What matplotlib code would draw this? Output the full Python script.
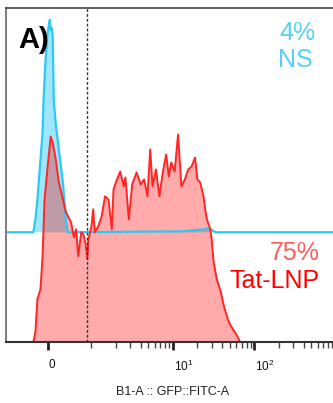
import numpy as np
import matplotlib
matplotlib.use('Agg')
import matplotlib.pyplot as plt
import matplotlib.transforms as mtrans

plt.rcParams['font.family'] = ['Liberation Sans', 'DejaVu Sans']
plt.rcParams['mathtext.fontset'] = 'custom'
plt.rcParams['mathtext.rm'] = 'Liberation Sans'
plt.rcParams['mathtext.default'] = 'regular'

# GFP::FITC-A values and histogram heights
red_x = [-0.95, -0.326, -0.279, -0.233, -0.163, -0.116, -0.070, 0.0, 0.070, 0.116,
         0.186, 0.256, 0.349, 0.419, 0.535, 0.60, 0.651, 0.698, 0.767, 0.814,
         0.860, 0.907, 0.930, 1.0, 1.050, 1.100, 1.213, 1.334, 1.467, 1.618,
         1.778, 1.866, 2.054, 2.259, 2.489, 2.609, 2.876, 3.162, 3.580, 4.017,
         4.43, 4.87, 5.26, 5.62, 6.18, 6.82, 7.50, 8.25, 8.91, 9.52,
         10.50, 11.55, 12.70, 14.01, 15.40, 16.94, 18.68, 19.95, 21.57, 23.71,
         24.9, 26.09, 28.76, 29.85, 31.6, 34.5, 38.7, 42.2, 47.4, 51.4,
         59.4, 66.7, 1090]
red_y = [0, 0, 10, 43, 53, 86, 143, 176, 206, 200,
         183, 160, 143, 130, 120, 105, 113, 86, 110, 108,
         100, 83, 103, 116, 133, 110, 116, 126, 146, 143,
         113, 153, 163, 171, 156, 165, 123, 158, 170, 158,
         163, 146, 193, 156, 173, 146, 170, 188, 166, 180,
         171, 208, 156, 163, 173, 176, 185, 163, 160, 146,
         133, 123, 113, 103, 80, 63, 50, 36, 22, 16,
         8, 0, 0]

ns_x = [-0.95, -0.326, -0.279, -0.233, -0.163, -0.116, -0.093, -0.047, 0.0, 0.047,
        0.070, 0.093, 0.116, 0.140, 0.186, 0.256, 0.349, 0.419, 0.465,
        13.3, 17.8, 23.7, 27.2, 30.3, 33.5, 1090]
ns_y = [0, 0, 13, 33, 73, 100, 133, 173, 200, 213,
        203, 205, 196, 133, 108, 83, 50, 10, 0,
        1, 2, 3, 4, 2, 0, 0]
ns_offset = 110

gate = 0.9
major_ticks = [0, 10, 100, 1000]
major_labels = ['0', '$10^1$', '$10^2$', '$10^3$']
minor_ticks = [1, 2, 3, 4, 5, 6, 7, 8, 9, 20, 30, 40, 50, 60, 70, 80, 90,
               200, 300, 400, 500, 600, 700, 800, 900]

cyan = '#2ec8f4'
red = '#ff2626'

fig = plt.figure(figsize=(3.33, 4.03), dpi=100)
ax = fig.add_axes([0.018, 0.1514, 1.0, 0.829])

ax.set_xscale('symlog', linthresh=1, linscale=0.484, base=10)

nsx = np.array(ns_x)
nsy = np.array(ns_y) + ns_offset
ax.fill_between(nsx, ns_offset, nsy, color=cyan, alpha=0.45, lw=0)
ax.plot(nsx, nsy, color=cyan, lw=1.6)

ax.fill_between(red_x, 0, red_y, color='#ff0000', alpha=0.33, lw=0)
ax.plot(red_x, red_y, color=red, lw=1.4)

ax.axvline(gate, color='#333333', lw=1, ls=(0, (2, 1.5)))

ax.set_xlim(-0.95, 1090)
ax.set_ylim(0, 335)

ax.set_xticks(major_ticks)
ax.set_xticklabels(major_labels, fontsize=8.5, color='#111111')
ax.set_xticks(minor_ticks, minor=True)
ax.tick_params(axis='x', which='major', length=6, width=2, color='#222222', pad=6)
ax.tick_params(axis='x', which='minor', length=4, width=1, color='#444444')
ax.set_yticks([])
off = mtrans.ScaledTranslation(1 / 100, 0, fig.dpi_scale_trans)
for lab in ax.get_xticklabels():
    lab.set_horizontalalignment('left')
    lab.set_transform(lab.get_transform() + off)

ax.spines['right'].set_visible(False)
ax.spines['left'].set_color('#808080')
ax.spines['left'].set_linewidth(1.5)
ax.spines['top'].set_color('#444444')
ax.spines['top'].set_linewidth(1.2)
ax.spines['bottom'].set_color('#333333')
ax.spines['bottom'].set_linewidth(1.5)

ax.set_xlabel('B1-A :: GFP::FITC-A', fontsize=9, labelpad=9, color='#222222')

fig.text(18 / 333, 1 - 40 / 403, 'A)', fontsize=21, fontweight='bold', va='center', ha='left')
fig.text(315 / 333, 1 - 33 / 403, '4%', fontsize=18, color='#55d0f8', va='center', ha='right')
fig.text(313 / 333, 1 - 60 / 403, 'NS', fontsize=18, color='#55d0f8', va='center', ha='right')
fig.text(320 / 333, 1 - 253 / 403, '75%', fontsize=18, color='#ff5c5c', va='center', ha='right')
fig.text(320 / 333, 1 - 281 / 403, 'Tat-LNP', fontsize=18, color='#ff0000', va='center', ha='right')

fig.savefig('out.png', dpi=100)
